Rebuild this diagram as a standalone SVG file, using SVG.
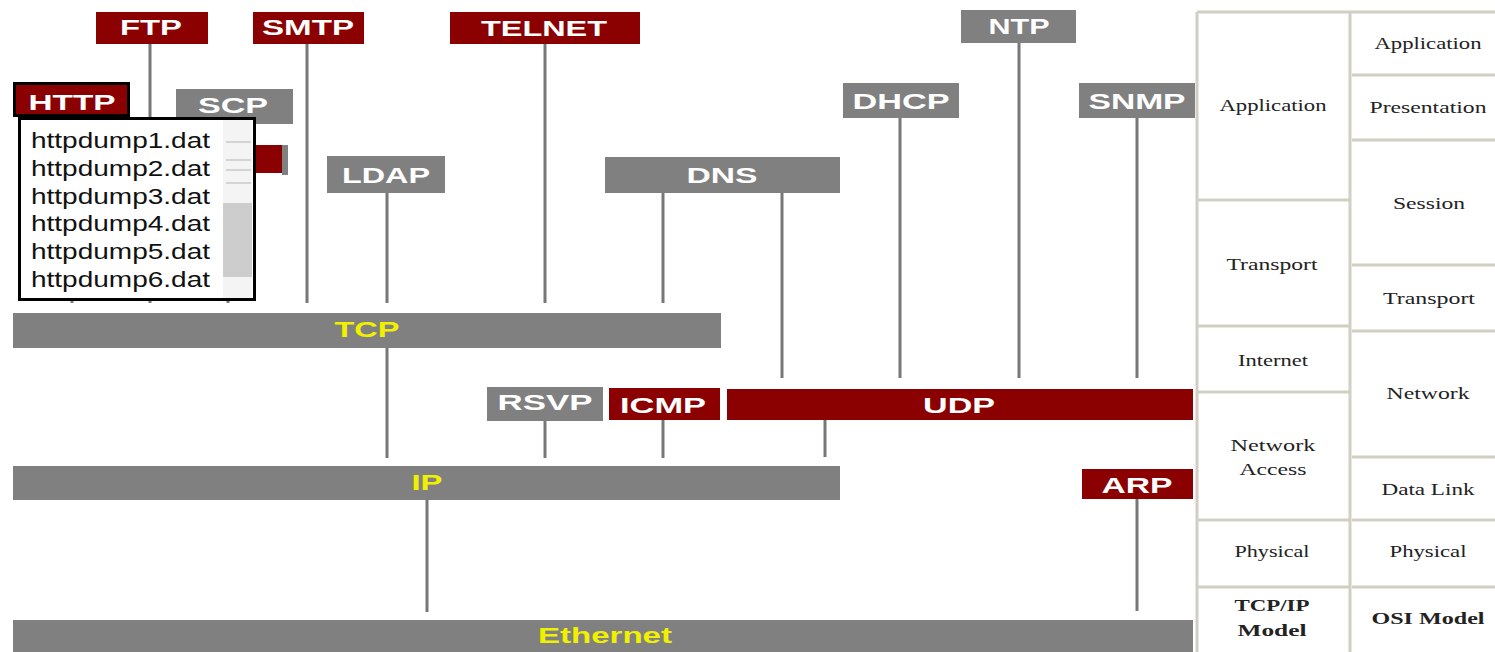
<svg xmlns="http://www.w3.org/2000/svg" width="1495" height="652" viewBox="0 0 1495 652">
<style>
.red{fill:#8b0000}
.gray{fill:#808080}
.lbl{font-family:"Liberation Sans",Arial,sans-serif;font-weight:bold;font-size:22px;fill:#ffffff;text-anchor:middle}
.bar{font-family:"Liberation Sans",Arial,sans-serif;font-weight:bold;font-size:22px;fill:#f0f000;text-anchor:middle}
.conn line{stroke:#777777;stroke-width:3}
.grid line{stroke:#d2cec2;stroke-width:3}
.tt{font-family:"Liberation Serif","Times New Roman",serif;font-size:17px;fill:#222222;text-anchor:middle}
.tb{font-weight:bold}
.item{font-family:"Liberation Sans",Arial,sans-serif;font-size:22px;fill:#111111}
</style>
<rect width="1495" height="652" fill="#ffffff"/>

<g id="connectors" class="conn">
  <line x1="72" y1="117" x2="72" y2="303"/>
  <line x1="150" y1="44" x2="150" y2="303"/>
  <line x1="228" y1="173" x2="228" y2="303"/>
  <line x1="307" y1="44" x2="307" y2="303"/>
  <line x1="387" y1="193" x2="387" y2="303"/>
  <line x1="545" y1="44" x2="545" y2="303"/>
  <line x1="663" y1="193" x2="663" y2="303"/>
  <line x1="782" y1="193" x2="782" y2="378"/>
  <line x1="900" y1="117" x2="900" y2="378"/>
  <line x1="1019" y1="43" x2="1019" y2="378"/>
  <line x1="1137" y1="117" x2="1137" y2="378"/>
  <line x1="387" y1="348" x2="387" y2="458"/>
  <line x1="545" y1="421" x2="545" y2="458"/>
  <line x1="663" y1="420" x2="663" y2="458"/>
  <line x1="825" y1="420" x2="825" y2="457"/>
  <line x1="427" y1="500" x2="427" y2="612"/>
  <line x1="1137" y1="499" x2="1137" y2="611"/>
</g>

<g id="ftp"><rect class="red" x="96" y="12" width="112" height="32"/><text class="lbl" x="151" y="35" textLength="62" lengthAdjust="spacingAndGlyphs">FTP</text></g>
<g id="smtp"><rect class="red" x="253" y="12" width="111" height="32"/><text class="lbl" x="308" y="35" textLength="92" lengthAdjust="spacingAndGlyphs">SMTP</text></g>
<g id="telnet"><rect class="red" x="450" y="12" width="190" height="32"/><text class="lbl" x="544" y="36" textLength="126" lengthAdjust="spacingAndGlyphs">TELNET</text></g>
<g id="ntp"><rect class="gray" x="961" y="10" width="115" height="33"/><text class="lbl" x="1019" y="34" textLength="61" lengthAdjust="spacingAndGlyphs">NTP</text></g>
<g id="scp"><rect class="gray" x="176" y="89" width="117" height="35"/><text class="lbl" x="233" y="113" textLength="70" lengthAdjust="spacingAndGlyphs">SCP</text></g>
<g id="hidden"><rect class="red" x="200" y="145" width="82" height="28"/><rect class="gray" x="282" y="145" width="6" height="30"/></g>
<g id="ldap"><rect class="gray" x="327" y="156" width="118" height="37"/><text class="lbl" x="386" y="183" textLength="88" lengthAdjust="spacingAndGlyphs">LDAP</text></g>
<g id="dns"><rect class="gray" x="605" y="157" width="235" height="36"/><text class="lbl" x="722" y="183" textLength="71" lengthAdjust="spacingAndGlyphs">DNS</text></g>
<g id="dhcp"><rect class="gray" x="843" y="83" width="116" height="35"/><text class="lbl" x="901" y="109" textLength="97" lengthAdjust="spacingAndGlyphs">DHCP</text></g>
<g id="snmp"><rect class="gray" x="1079" y="83" width="116" height="35"/><text class="lbl" x="1137" y="109" textLength="97" lengthAdjust="spacingAndGlyphs">SNMP</text></g>
<g id="tcp"><rect class="gray" x="13" y="313" width="708" height="35"/><text class="bar" x="367" y="337" textLength="65" lengthAdjust="spacingAndGlyphs">TCP</text></g>
<g id="rsvp"><rect class="gray" x="487" y="387" width="116" height="34"/><text class="lbl" x="545" y="410" textLength="95" lengthAdjust="spacingAndGlyphs">RSVP</text></g>
<g id="icmp"><rect class="red" x="609" y="388" width="111" height="32"/><text class="lbl" x="663" y="413" textLength="86" lengthAdjust="spacingAndGlyphs">ICMP</text></g>
<g id="udp"><rect class="red" x="727" y="389" width="466" height="31"/><text class="lbl" x="959" y="413" textLength="72" lengthAdjust="spacingAndGlyphs">UDP</text></g>
<g id="ip"><rect class="gray" x="13" y="466" width="827" height="34"/><text class="bar" x="427" y="490" textLength="31" lengthAdjust="spacingAndGlyphs">IP</text></g>
<g id="arp"><rect class="red" x="1082" y="469" width="111" height="30"/><text class="lbl" x="1137" y="493" textLength="71" lengthAdjust="spacingAndGlyphs">ARP</text></g>
<g id="ethernet"><rect class="gray" x="13" y="620" width="1180" height="32"/><text class="bar" x="605" y="643" textLength="134" lengthAdjust="spacingAndGlyphs">Ethernet</text></g>

<g id="http"><rect class="red" x="14.5" y="83.5" width="114" height="32" stroke="#000000" stroke-width="3"/><text class="lbl" x="72" y="110" textLength="87" lengthAdjust="spacingAndGlyphs">HTTP</text></g>

<g id="popup">
  <rect x="19.5" y="118.5" width="235" height="181" fill="#ffffff" stroke="#000000" stroke-width="3"/>
  <rect x="223" y="120" width="29" height="178" fill="#f4f4f4"/>
  <rect x="223" y="203" width="29" height="74" fill="#cdcdcd"/>
  <g stroke="#d4d4d4" stroke-width="2">
    <line x1="226" y1="142" x2="251" y2="142"/>
    <line x1="226" y1="160" x2="251" y2="160"/>
    <line x1="226" y1="170" x2="251" y2="170"/>
    <line x1="226" y1="183" x2="251" y2="183"/>
  </g>
  <text class="item" x="31" y="148" textLength="179" lengthAdjust="spacingAndGlyphs">httpdump1.dat</text>
  <text class="item" x="31" y="176" textLength="179" lengthAdjust="spacingAndGlyphs">httpdump2.dat</text>
  <text class="item" x="31" y="204" textLength="179" lengthAdjust="spacingAndGlyphs">httpdump3.dat</text>
  <text class="item" x="31" y="231" textLength="179" lengthAdjust="spacingAndGlyphs">httpdump4.dat</text>
  <text class="item" x="31" y="259" textLength="179" lengthAdjust="spacingAndGlyphs">httpdump5.dat</text>
  <text class="item" x="31" y="287" textLength="179" lengthAdjust="spacingAndGlyphs">httpdump6.dat</text>
</g>

<g id="model-table">
  <g class="grid">
    <line x1="1197" y1="12" x2="1197" y2="652"/>
    <line x1="1350" y1="12" x2="1350" y2="652" stroke-width="4"/>
    <line x1="1197" y1="12" x2="1495" y2="12"/>
    <line x1="1197" y1="200" x2="1349" y2="200"/>
    <line x1="1197" y1="326" x2="1349" y2="326"/>
    <line x1="1197" y1="392" x2="1349" y2="392"/>
    <line x1="1197" y1="520" x2="1349" y2="520"/>
    <line x1="1197" y1="587" x2="1349" y2="587"/>
    <line x1="1352" y1="75" x2="1495" y2="75"/>
    <line x1="1352" y1="140" x2="1495" y2="140"/>
    <line x1="1352" y1="265" x2="1495" y2="265"/>
    <line x1="1352" y1="331" x2="1495" y2="331"/>
    <line x1="1352" y1="457" x2="1495" y2="457"/>
    <line x1="1352" y1="520" x2="1495" y2="520"/>
    <line x1="1352" y1="587" x2="1495" y2="587"/>
  </g>
  <text class="tt" x="1273" y="111" textLength="107" lengthAdjust="spacingAndGlyphs">Application</text>
  <text class="tt" x="1272" y="270" textLength="91" lengthAdjust="spacingAndGlyphs">Transport</text>
  <text class="tt" x="1273" y="366" textLength="70" lengthAdjust="spacingAndGlyphs">Internet</text>
  <text class="tt" x="1273" y="451" textLength="85" lengthAdjust="spacingAndGlyphs">Network</text>
  <text class="tt" x="1273" y="475" textLength="67" lengthAdjust="spacingAndGlyphs">Access</text>
  <text class="tt" x="1272" y="557" textLength="75" lengthAdjust="spacingAndGlyphs">Physical</text>
  <text class="tt tb" x="1272" y="611" textLength="75" lengthAdjust="spacingAndGlyphs">TCP/IP</text>
  <text class="tt tb" x="1272" y="636" textLength="69" lengthAdjust="spacingAndGlyphs">Model</text>
  <text class="tt" x="1428" y="49" textLength="107" lengthAdjust="spacingAndGlyphs">Application</text>
  <text class="tt" x="1428" y="113" textLength="117" lengthAdjust="spacingAndGlyphs">Presentation</text>
  <text class="tt" x="1429" y="209" textLength="72" lengthAdjust="spacingAndGlyphs">Session</text>
  <text class="tt" x="1429" y="304" textLength="92" lengthAdjust="spacingAndGlyphs">Transport</text>
  <text class="tt" x="1428" y="399" textLength="83" lengthAdjust="spacingAndGlyphs">Network</text>
  <text class="tt" x="1428" y="495" textLength="93" lengthAdjust="spacingAndGlyphs">Data Link</text>
  <text class="tt" x="1428" y="557" textLength="77" lengthAdjust="spacingAndGlyphs">Physical</text>
  <text class="tt tb" x="1428" y="624" textLength="113" lengthAdjust="spacingAndGlyphs">OSI Model</text>
</g>
</svg>
